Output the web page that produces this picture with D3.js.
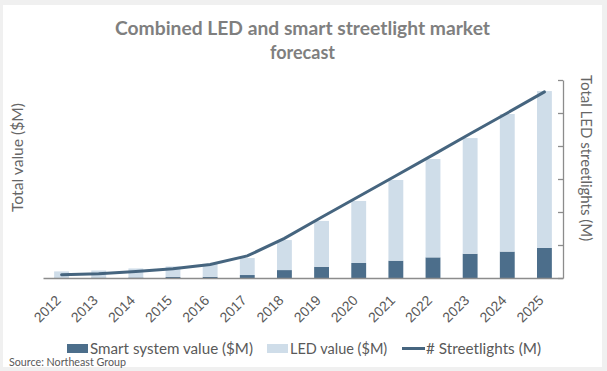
<!DOCTYPE html>
<html>
<head>
<meta charset="utf-8">
<script src="https://cdn.jsdelivr.net/npm/d3@7"></script>
<style>
  html, body { margin: 0; padding: 0; background: #f0f0f0; }
  svg { display: block; font-family: Lato, "Open Sans", sans-serif; }
</style>
</head>
<body>
<div id="chart"></div>
<script>
// data (left axis in $M, right axis in millions)
const years = ["2012","2013","2014","2015","2016","2017","2018","2019","2020","2021","2022","2023","2024","2025"];
const smartValue = [10, 12, 15, 30, 36, 90, 240, 340, 455, 525, 625, 735, 800, 910];
const ledValue = [190, 215, 275, 320, 390, 515, 910, 1390, 1880, 2445, 2980, 3505, 4170, 4755];
const streetlights = [1.0, 1.3, 2.0, 2.8, 4.1, 6.7, 12.0, 18.4, 24.7, 31.0, 37.3, 43.7, 50.0, 56.4];
const rightTicks = [0, 10, 20, 30, 40, 50, 60];

const W = 607, H = 371;
const darkBlue = "#4c6e8b", lightBlue = "#cfdde9", lineColor = "#46657f";

const svg = d3.select("#chart").append("svg")
    .attr("width", W)
    .attr("height", H);

// white panel
svg.append("rect")
    .attr("x", 3).attr("y", 5)
    .attr("width", 599).attr("height", 362)
    .attr("fill", "#fff");

// squeeze text to a target width, keeps the glyph height (start-anchored)
function fit(sel, w) {
    const len = sel.node().getComputedTextLength();
    if (Math.abs(len - w) > 2) sel.attr("textLength", w).attr("lengthAdjust", "spacingAndGlyphs");
    return sel;
}

// Title
fit(svg.append("text")
    .attr("x", 115).attr("y", 35)
    .attr("font-size", "18px").attr("font-weight", "bold")
    .attr("fill", "#7f7f7f")
    .text("Combined LED and smart streetlight market"), 375);
fit(svg.append("text")
    .attr("x", 270).attr("y", 59)
    .attr("font-size", "18px").attr("font-weight", "bold")
    .attr("fill", "#7f7f7f")
    .text("forecast"), 65);

// Scales
const x = d3.scaleBand()
    .domain(years)
    .range([43, 563])
    .paddingInner(0.6)
    .paddingOuter(0.3);
const yLeft = d3.scaleLinear().domain([0, 6000]).range([278, 80]);
const yRight = d3.scaleLinear().domain([0, 60]).range([278, 80]);

// Bars: smart at the bottom, LED stacked on top
const rows = years.map((yr, i) => ({ year: yr, smart: smartValue[i], led: ledValue[i] }));
const stack = d3.stack().keys(["smart", "led"])(rows);
const colors = { smart: darkBlue, led: lightBlue };

svg.append("g").selectAll("g")
    .data(stack)
    .enter().append("g")
    .attr("fill", d => colors[d.key])
    .selectAll("rect")
    .data(d => d)
    .enter().append("rect")
    .attr("x", d => x(d.data.year))
    .attr("y", d => yLeft(d[1]))
    .attr("width", x.bandwidth())
    .attr("height", d => yLeft(d[0]) - yLeft(d[1]));

// X axis
const xAxis = svg.append("g")
    .attr("transform", "translate(0,278)")
    .call(d3.axisBottom(x).tickSize(0).tickSizeOuter(0));
xAxis.select(".domain").attr("stroke", "#8c8c8c").attr("stroke-width", 1.3);
xAxis.selectAll("text")
    .attr("font-size", "14px")
    .attr("fill", "#595959")
    .attr("text-anchor", "end")
    .attr("dx", "0")
    .attr("dy", "0")
    .attr("transform", "translate(-2,21) rotate(-45)");

// Right axis (no labels, ticks pointing inward)
const rAxis = svg.append("g")
    .attr("transform", "translate(563,0)")
    .call(d3.axisLeft(yRight).tickValues(rightTicks).tickFormat("").tickSize(5).tickSizeOuter(0));
rAxis.select(".domain").attr("stroke", "#8c8c8c").attr("stroke-width", 1.3);
rAxis.selectAll(".tick line").attr("stroke", "#8c8c8c").attr("stroke-width", 1.3);

// Streetlight line
const line = d3.line()
    .x((d, i) => x(years[i]) + x.bandwidth() / 2)
    .y(d => yRight(d));
svg.append("path")
    .datum(streetlights)
    .attr("d", line)
    .attr("fill", "none")
    .attr("stroke", lineColor)
    .attr("stroke-width", 3)
    .attr("stroke-linecap", "round");

// Axis titles
fit(svg.append("text")
    .attr("transform", "translate(23,212) rotate(-90)")
    .attr("font-size", "15px")
    .attr("fill", "#666")
    .text("Total value ($M)"), 109);
fit(svg.append("text")
    .attr("transform", "translate(581,75) rotate(90)")
    .attr("font-size", "15px")
    .attr("fill", "#666")
    .text("Total LED streetlights (M)"), 168);

// Legend
const legend = svg.append("g");
legend.append("rect").attr("x", 67).attr("y", 344).attr("width", 21).attr("height", 9).attr("fill", darkBlue);
fit(legend.append("text").attr("x", 90).attr("y", 354).attr("font-size", "14.5px").attr("fill", "#595959")
    .text("Smart system value ($M)"), 163);
legend.append("rect").attr("x", 267).attr("y", 344).attr("width", 21).attr("height", 9).attr("fill", lightBlue);
fit(legend.append("text").attr("x", 290).attr("y", 354).attr("font-size", "14.5px").attr("fill", "#595959")
    .text("LED value ($M)"), 98);
legend.append("line").attr("x1", 402).attr("x2", 425).attr("y1", 348.5).attr("y2", 348.5)
    .attr("stroke", lineColor).attr("stroke-width", 3);
fit(legend.append("text").attr("x", 426).attr("y", 354).attr("font-size", "14.5px").attr("fill", "#595959")
    .text("# Streetlights (M)"), 115);

// Source
fit(svg.append("text")
    .attr("x", 9).attr("y", 366)
    .attr("font-size", "10.5px")
    .attr("fill", "#595959")
    .text("Source: Northeast Group"), 117);
</script>
</body>
</html>
